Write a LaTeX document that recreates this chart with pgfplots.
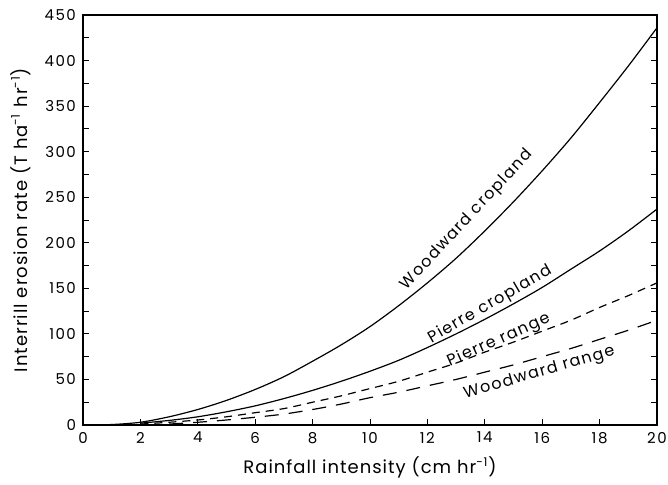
\documentclass[border=0pt]{standalone}
\usepackage{fontspec}
\setmainfont{Poppins}
\usepackage{pgfplots}
\pgfplotsset{compat=1.18}
\newcommand{\lblfont}{\fontsize{8}{9}\selectfont\addfontfeature{LetterSpace=8.5}}
\begin{document}
\begin{tikzpicture}
\begin{axis}[
  name=ax,
  scale only axis,
  width=287pt, height=205pt,
  xmin=0, xmax=20, ymin=0, ymax=450,
  xtick={0,2,...,20},
  ytick={0,50,...,450},
  minor ytick={25,75,...,425},
  tick align=inside,
  xtick pos=bottom,
  ytick pos=both,
  major tick length=3pt,
  minor tick length=3pt,
  tick style={black, line width=0.4pt},
  axis line style={line width=0.6pt},
  /pgf/number format/assume math mode=true,
  tick label style={font=\fontsize{7.5}{8}\selectfont\addfontfeature{LetterSpace=10}},
  label style={font=\fontsize{9}{10}\selectfont\addfontfeature{LetterSpace=5.5}},
  xlabel={Rainfall intensity (cm hr\textsuperscript{-1})},
  ylabel={Interrill erosion rate (T ha\textsuperscript{-1} hr\textsuperscript{-1})},
  cycle list={{black}},
]
% Woodward cropland
\addplot[black, line width=0.6pt, smooth] coordinates {(0,0) (1,0.5) (2,3) (3,9) (4,17) (5,27) (6,39) (7,53) (8,70) (9,88) (10,108) (11,131) (12,156) (13,183) (14,213) (15,245) (16,279) (17,315) (18,354) (19,394) (20,436)};
% Pierre cropland
\addplot[black, line width=0.6pt, smooth] coordinates {(2,2) (3,5) (4,9) (5,14.5) (6,21) (7,29) (8,38) (9,48) (10,59) (11,71) (12,85) (13,100) (14,116) (15,133) (16,151) (17,171) (18,191) (19,213) (20,237)};
% Pierre range
\addplot[black, line width=0.6pt, smooth, dash pattern=on 4pt off 3pt] coordinates {(2,1) (3,3) (4,5.5) (5,9) (6,13.5) (7,18) (8,25) (9,32) (10,40) (11,48) (12,58) (13,68) (14,80) (15,91) (16,103) (17,115) (18,129) (19,142) (20,156)};
% Woodward range
\addplot[black, line width=0.6pt, smooth, dash pattern=on 7pt off 5pt] coordinates {(3,1) (4,3) (5,5.5) (6,8.5) (7,12) (8,17) (9,23) (10,30) (11,36) (12,43) (13,50) (14,58) (15,66) (16,75) (17,84) (18,94) (19,104) (20,115)};
\node[rotate=47, font=\lblfont] at (axis cs:13.38,225) {Woodward cropland};
\node[rotate=30, font=\lblfont] at (axis cs:14.18,132) {Pierre cropland};
\node[rotate=24, font=\lblfont] at (axis cs:14.49,93) {Pierre range};
\node[rotate=16, font=\lblfont] at (axis cs:15.9,57) {Woodward range};
\end{axis}
\pgfresetboundingbox
\path[use as bounding box] ([xshift=-41.5pt,yshift=-30pt]ax.south west) rectangle ([xshift=5.5pt,yshift=7.5pt]ax.north east);
\end{tikzpicture}
\end{document}
